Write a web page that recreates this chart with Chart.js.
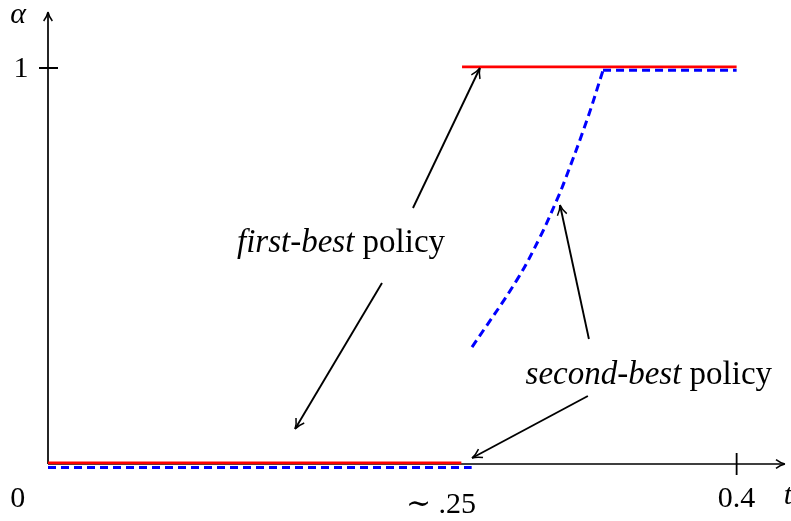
<!DOCTYPE html>
<html>
<head>
<meta charset="utf-8">
<script src="https://cdn.jsdelivr.net/npm/chart.js@4.4.0/dist/chart.umd.min.js"></script>
<style>body{margin:0;background:#fff}</style>
</head>
<body>
<canvas id="policy" width="791" height="521"></canvas>
<script>
// t on the x axis, alpha on the y axis
// first-best policy: 0, then jumps to 1
var FirstBestLow = [[0, 0.003], [0.2401, 0.003]];
var FirstBestHigh = [[0.2405, 1.003], [0.4, 1.003]];
// second-best policy: 0, jump to ~.3, rises, then stays at 1
var SecondBestLow = [[0, -0.009], [0.2461, -0.009]];
var SecondBestCurve = [[0.2463, 0.295], [0.2724, 0.465], [0.2858, 0.573], [0.2956, 0.667],
                       [0.3003, 0.717], [0.3131, 0.869], [0.3224, 0.994]];
var SecondBestHigh = [[0.3224, 0.994], [0.4, 0.994]];

// tick marks and labels
var xTickValues = [0.4];
var yTickValues = [1];
var xLabels = ['0', '\u223C .25', '0.4'];
var xLabelValues = [-0.0175, 0.2283, 0.4];
var yLabels = ['1'];
var yLabelValues = [1];

// annotations: [italic part, upright part], where the text sits, and its arrows
var notes = [['first-best', ' policy'], ['second-best', ' policy']];
var notePos = [[0.1702, 0.558], [0.349, 0.2247]];
var arrowFrom = [[0.2120, 0.6465], [0.1940, 0.457], [0.3142, 0.3157], [0.3136, 0.1717]];
var arrowTo = [[0.2509, 1.0], [0.1435, 0.0884], [0.2974, 0.654], [0.2463, 0.0152]];

var X_MAX = 0.4281, Y_MAX = 1.1414;
var FONT = 'Liberation Serif';

function pts(arr){
    return arr.map(function(p){ return {x: p[0], y: p[1]}; });
}

function arrowHead(ctx, x0, y0, x1, y1, len){
    var a = Math.atan2(y1 - y0, x1 - x0);
    ctx.beginPath();
    for(var s = -1; s <= 1; s += 2){
        var b = a + Math.PI + s * 0.45;
        ctx.moveTo(x1 + len * Math.cos(b), y1 + len * Math.sin(b));
        var c = a + Math.PI + s * 0.2;
        ctx.quadraticCurveTo(x1 + len * 0.45 * Math.cos(c), y1 + len * 0.45 * Math.sin(c), x1, y1);
    }
    ctx.stroke();
}

var axesPlugin = {
    id: 'axesPlugin',
    beforeDatasetsDraw: function(chart){
        var ctx = chart.ctx, xs = chart.scales.x, ys = chart.scales.y;
        var ox = xs.getPixelForValue(0), oy = ys.getPixelForValue(0);
        var ex = xs.getPixelForValue(X_MAX), ey = ys.getPixelForValue(Y_MAX);
        ctx.save();
        ctx.strokeStyle = '#000';
        ctx.lineWidth = 1.7;
        ctx.beginPath();
        ctx.moveTo(ox, oy); ctx.lineTo(ex - 1, oy);
        ctx.moveTo(ox, oy); ctx.lineTo(ox, ey + 1);
        ctx.stroke();
        ctx.lineWidth = 1.5;
        arrowHead(ctx, ox, oy, ex, oy, 10);
        arrowHead(ctx, ox, oy, ox, ey, 10);
        ctx.lineWidth = 1.8;
        ctx.beginPath();
        xTickValues.forEach(function(v){
            var px = xs.getPixelForValue(v);
            ctx.moveTo(px, oy - 11); ctx.lineTo(px, oy + 11);
        });
        yTickValues.forEach(function(v){
            var py = ys.getPixelForValue(v);
            ctx.moveTo(ox - 9, py); ctx.lineTo(ox + 10, py);
        });
        ctx.stroke();

        ctx.fillStyle = '#000';
        ctx.textAlign = 'center';
        ctx.textBaseline = 'alphabetic';
        xLabels.forEach(function(t, i){
            ctx.font = '30px "' + FONT + '"';
            if(i == 1){
                // the \sim sign is wider in the original
                ctx.font = '30px "DejaVu Serif"';
                var w0 = ctx.measureText('\u223C').width;
                ctx.font = '30px "' + FONT + '"';
                var w1 = ctx.measureText(' .25').width;
                var left = xs.getPixelForValue(xLabelValues[i]) - (w0 + w1) / 2;
                ctx.textAlign = 'left';
                ctx.font = '30px "DejaVu Serif"';
                ctx.fillText('\u223C', left, oy + 49);
                ctx.font = '30px "' + FONT + '"';
                ctx.fillText(' .25', left + w0, oy + 49);
                ctx.textAlign = 'center';
                return;
            }
            ctx.fillText(t, xs.getPixelForValue(xLabelValues[i]), oy + 43);
        });
        ctx.textBaseline = 'middle';
        ctx.font = '30px "' + FONT + '"';
        yLabels.forEach(function(t, i){
            ctx.fillText(t, ox - 27, ys.getPixelForValue(yLabelValues[i]) + 1);
        });
        ctx.font = 'italic 30px "' + FONT + '"';
        ctx.fillText('t', ex + 3, oy + 32);
        ctx.fillText('\u03B1', ox - 30, ey + 3);
        ctx.restore();
    },
    afterDatasetsDraw: function(chart){
        var ctx = chart.ctx, xs = chart.scales.x, ys = chart.scales.y;
        ctx.save();
        ctx.strokeStyle = '#000';
        ctx.fillStyle = '#000';
        for(var i = 0; i < arrowFrom.length; i++){
            var x0 = xs.getPixelForValue(arrowFrom[i][0]), y0 = ys.getPixelForValue(arrowFrom[i][1]);
            var x1 = xs.getPixelForValue(arrowTo[i][0]), y1 = ys.getPixelForValue(arrowTo[i][1]);
            ctx.lineWidth = 1.9;
            ctx.beginPath();
            ctx.moveTo(x0, y0); ctx.lineTo(x1, y1);
            ctx.stroke();
            ctx.lineWidth = 1.5;
            arrowHead(ctx, x0, y0, x1, y1, 11);
        }
        ctx.textBaseline = 'middle';
        ctx.textAlign = 'left';
        notes.forEach(function(n, i){
            var cx = xs.getPixelForValue(notePos[i][0]), cy = ys.getPixelForValue(notePos[i][1]);
            ctx.font = 'italic 33px "' + FONT + '"';
            var w1 = ctx.measureText(n[0]).width;
            ctx.font = '33px "' + FONT + '"';
            var w2 = ctx.measureText(n[1]).width;
            var left = cx - (w1 + w2) / 2;
            ctx.font = 'italic 33px "' + FONT + '"';
            ctx.fillText(n[0], left, cy);
            ctx.font = '33px "' + FONT + '"';
            ctx.fillText(n[1], left + w1, cy);
        });
        ctx.restore();
    }
};

var red = {borderColor: '#ff0000', borderWidth: 2.8, pointRadius: 0, tension: 0, clip: false, fill: false};
var blue = {borderColor: '#0000ff', borderWidth: 3, borderDash: [8, 5], pointRadius: 0, clip: false, fill: false};

const ctx = document.getElementById('policy').getContext('2d');
const PolicyChart = new Chart(ctx, {
    type: 'line',
    data: {
        datasets: [
            Object.assign({label: 'second-best low', data: pts(SecondBestLow)}, blue),
            Object.assign({label: 'second-best curve', data: pts(SecondBestCurve), tension: 0.4}, blue),
            Object.assign({label: 'second-best high', data: pts(SecondBestHigh)}, blue),
            Object.assign({label: 'first-best low', data: pts(FirstBestLow)}, red),
            Object.assign({label: 'first-best high', data: pts(FirstBestHigh)}, red)
        ]
    },
    options: {
        responsive: false,
        animation: false,
        layout: {padding: {left: 48, right: 6, top: 12, bottom: 57}},
        plugins: {legend: {display: false}, tooltip: {enabled: false}},
        scales: {
            x: {type: 'linear', min: 0, max: X_MAX, display: false},
            y: {type: 'linear', min: 0, max: Y_MAX, display: false}
        }
    },
    plugins: [axesPlugin]
});
</script>
</body>
</html>
